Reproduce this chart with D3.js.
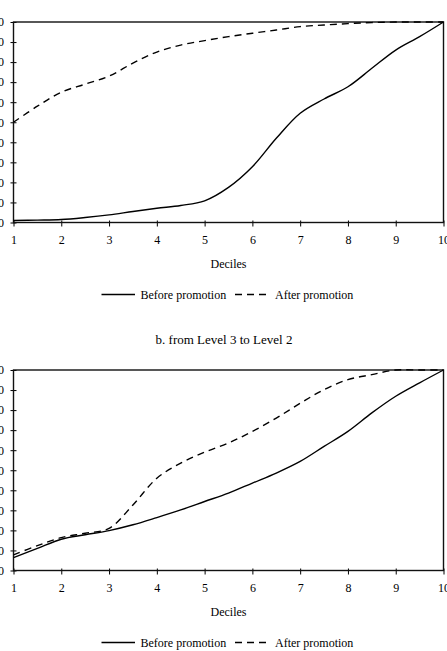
<!DOCTYPE html>
<html>
<head>
<meta charset="utf-8">
<script src="https://cdn.jsdelivr.net/npm/d3@7"></script>
<style>
  body { margin: 0; background: #fff; }
  text { font-family: "Liberation Serif", "Times New Roman", serif; fill: #000; }
</style>
</head>
<body>
<div id="chart"></div>
<script>
const width = 447;
const height = 651;

const deciles = [1, 1.5, 2, 2.5, 3, 3.5, 4, 4.5, 5, 5.5, 6, 6.5, 7, 7.5, 8, 8.5, 9, 9.5, 10];
const xTicks = [1, 2, 3, 4, 5, 6, 7, 8, 9, 10];
const yTicks = [0, 10, 20, 30, 40, 50, 60, 70, 80, 90, 100];

// panel a (title cropped off above)
const beforeA = [1, 1.2, 1.5, 2.5, 3.8, 5.5, 7.1, 8.5, 10.8, 17.5, 27.8, 42, 54.5, 61.6, 67.7, 76.9, 86, 92.7, 100];
const afterA  = [50, 58, 65, 69, 73, 79.5, 85, 88.5, 90.7, 92.7, 94.4, 96, 97.7, 98.5, 99.2, 99.7, 100, 100, 100];

// panel b. from Level 3 to Level 2
const beforeB = [6.4, 11, 15.6, 17.8, 19.9, 22.8, 26.4, 30.2, 34.4, 38.6, 43.6, 48.6, 54.4, 61.9, 69.4, 78.6, 86.9, 93.6, 100];
const afterB  = [7.8, 12.4, 16.4, 18.6, 21, 32.7, 46, 53.6, 59, 63.6, 69.4, 76, 83.4, 90.2, 95.2, 97.7, 100, 100, 100];

const plotLeft = 13.5;
const plotRight = 443.5;
const plotH = 200.5;

const svg = d3.select('#chart')
              .append('svg')
              .attr('width', width)
              .attr('height', height);

const xScale = d3.scaleLinear()
                 .domain([1, 10])
                 .range([plotLeft, plotRight]);

function Panel(top, before, after)
{
    const yScale = d3.scaleLinear()
                     .domain([0, 100])
                     .range([top + plotH, top]);
    const g = svg.append('g');

    const xAxis = g.append('g')
                   .attr('transform', `translate(0,${top + plotH})`)
                   .call(d3.axisBottom(xScale).tickValues(xTicks).tickSize(4).tickFormat(d3.format('d')));
    xAxis.selectAll('.tick line').attr('y1', -2).attr('y2', 4);
    xAxis.selectAll('.tick text').attr('y', 13).attr('font-size', 12);

    const yAxis = g.append('g')
                   .attr('transform', `translate(${plotLeft},0)`)
                   .call(d3.axisLeft(yScale).tickValues(yTicks).tickSize(3));
    yAxis.selectAll('.tick line').attr('x1', -3).attr('x2', 3);
    yAxis.selectAll('.tick text').attr('x', -9.5).attr('font-size', 12);

    g.selectAll('.domain').remove();
    g.selectAll('.tick line').attr('stroke', '#000').attr('stroke-width', 1);

    // frame around the plot
    g.append('rect')
     .attr('x', plotLeft)
     .attr('y', top)
     .attr('width', plotRight - plotLeft)
     .attr('height', plotH)
     .attr('fill', 'none')
     .attr('stroke', '#111')
     .attr('stroke-width', 1.4);

    const line = d3.line()
                   .x((d, i) => xScale(deciles[i]))
                   .y(d => yScale(d))
                   .curve(d3.curveCatmullRom.alpha(0.5));

    g.append('path')
     .attr('d', line(before))
     .attr('fill', 'none')
     .attr('stroke', '#000')
     .attr('stroke-width', 1.4);

    g.append('path')
     .attr('d', line(after))
     .attr('fill', 'none')
     .attr('stroke', '#000')
     .attr('stroke-width', 1.4)
     .attr('stroke-dasharray', '7,5');

    g.append('text')
     .attr('x', (plotLeft + plotRight) / 2)
     .attr('y', top + plotH + 45.5)
     .attr('text-anchor', 'middle')
     .attr('font-size', 12)
     .text('Deciles');

    // legend
    const ly = top + plotH + 72;
    g.append('line')
     .attr('x1', 101.5).attr('x2', 135)
     .attr('y1', ly).attr('y2', ly)
     .attr('stroke', '#000').attr('stroke-width', 1.4);
    g.append('text')
     .attr('x', 140.5).attr('y', ly + 4)
     .attr('font-size', 12)
     .text('Before promotion');
    g.append('line')
     .attr('x1', 235).attr('x2', 268.5)
     .attr('y1', ly).attr('y2', ly)
     .attr('stroke', '#000').attr('stroke-width', 1.4)
     .attr('stroke-dasharray', '7,5');
    g.append('text')
     .attr('x', 275).attr('y', ly + 4)
     .attr('font-size', 12)
     .text('After promotion');
}

Panel(22, beforeA, afterA);

svg.append('text')
   .attr('x', 224)
   .attr('y', 344)
   .attr('text-anchor', 'middle')
   .attr('font-size', 13)
   .text('b. from Level 3 to Level 2');

Panel(370, beforeB, afterB);
</script>
</body>
</html>
